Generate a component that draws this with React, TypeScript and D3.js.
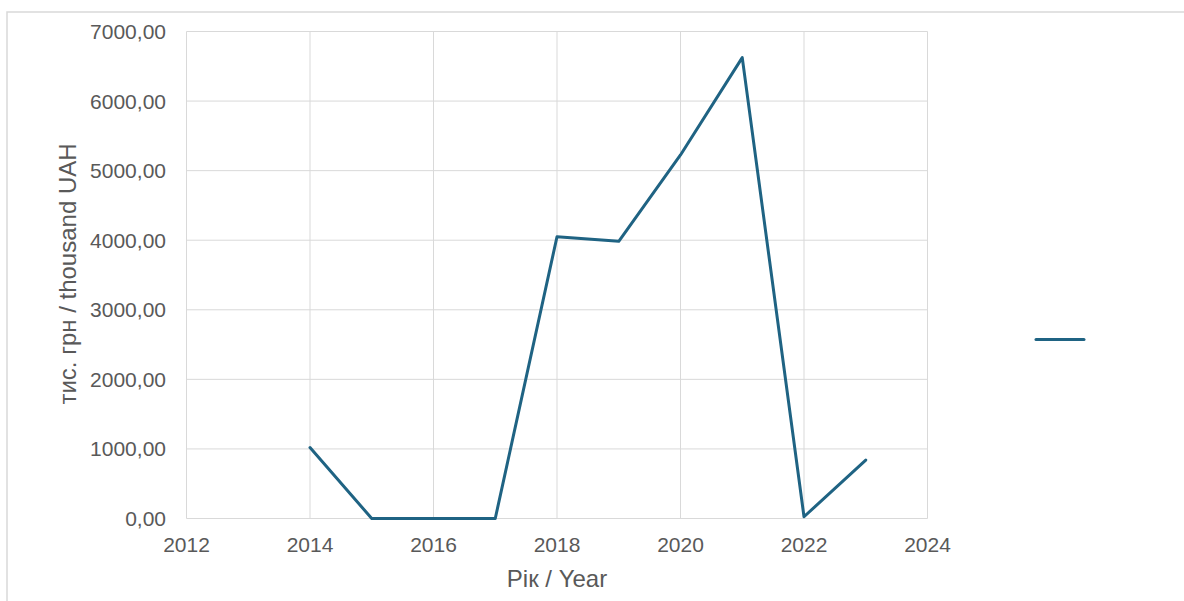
import React from "react";
import * as d3 from "d3";

const years = [2014, 2015, 2016, 2017, 2018, 2019, 2020, 2021, 2022, 2023];
const values = [1020, 0, 0, 0, 4050, 3985, 5225, 6625, 25, 840];
const xTicks = [2012, 2014, 2016, 2018, 2020, 2022, 2024];
const yTicks = [0, 1000, 2000, 3000, 4000, 5000, 6000, 7000];
const xTitle = "Рік / Year";
const yTitle = "тис. грн / thousand UAH";

const W = 1184;
const H = 601;
const m = { left: 186.5, right: 927.5, top: 31.5, bottom: 518.5 };
const lineColor = "#1f6383";
const gridColor = "#d9d9d9";
const textColor = "#595959";
const font = "'Liberation Sans', Arial, sans-serif";

export default function App() {
  const x = d3.scaleLinear().domain([2012, 2024]).range([m.left, m.right]);
  const y = d3.scaleLinear().domain([0, 7000]).range([m.bottom, m.top]);
  const line = d3
    .line<number>()
    .x((_, i) => x(years[i]))
    .y((d) => y(d));
  const fmt = (v: number) => v.toFixed(2).replace(".", ",");

  return (
    <svg
      width={W}
      height={H}
      style={{ position: "absolute", left: 0, top: 0, background: "#fff" }}
    >
      <rect x={7} y={12} width={W} height={H} fill="#fff" stroke={gridColor} strokeWidth={1.5} />
      {yTicks.map((t) => (
        <line key={"gy" + t} x1={m.left} x2={m.right} y1={y(t)} y2={y(t)} stroke={gridColor} strokeWidth={1} />
      ))}
      {xTicks.map((t) => (
        <line key={"gx" + t} x1={x(t)} x2={x(t)} y1={m.top} y2={m.bottom} stroke={gridColor} strokeWidth={1} />
      ))}
      {yTicks.map((t) => (
        <text
          key={"ly" + t}
          x={166}
          y={y(t)}
          textAnchor="end"
          dominantBaseline="central"
          fontFamily={font}
          fontSize={21}
          fill={textColor}
        >
          {fmt(t)}
        </text>
      ))}
      {xTicks.map((t) => (
        <text
          key={"lx" + t}
          x={x(t)}
          y={544}
          textAnchor="middle"
          dominantBaseline="central"
          fontFamily={font}
          fontSize={21}
          fill={textColor}
        >
          {t}
        </text>
      ))}
      <path d={line(values) || ""} fill="none" stroke={lineColor} strokeWidth={3} strokeLinejoin="round" strokeLinecap="round" />
      <line x1={1036} x2={1084} y1={339.5} y2={339.5} stroke={lineColor} strokeWidth={3} strokeLinecap="round" />
      <text
        x={557}
        y={578}
        textAnchor="middle"
        dominantBaseline="central"
        fontFamily={font}
        fontSize={24}
        fill={textColor}
      >
        {xTitle}
      </text>
      <text
        transform={`translate(67,274) rotate(-90)`}
        textAnchor="middle"
        dominantBaseline="central"
        fontFamily={font}
        fontSize={24}
        fill={textColor}
      >
        {yTitle}
      </text>
    </svg>
  );
}
